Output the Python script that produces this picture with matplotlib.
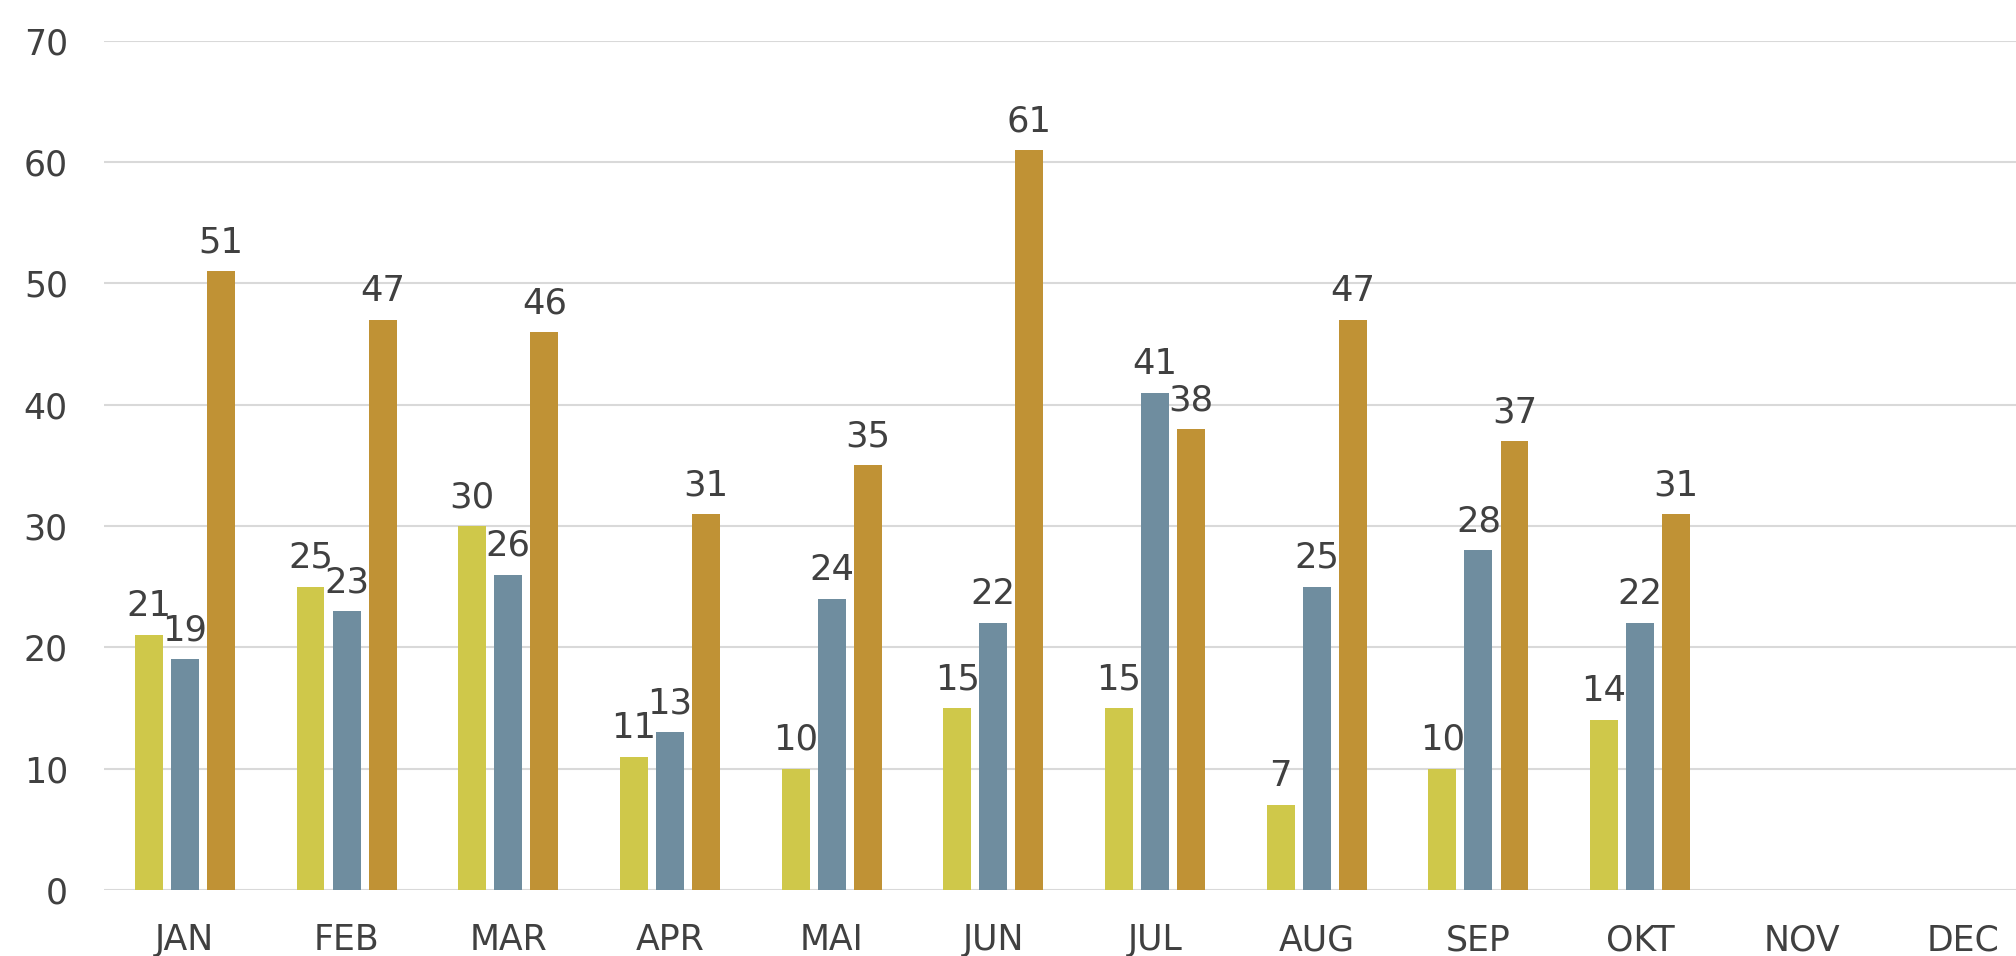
import matplotlib
matplotlib.use("Agg")
import matplotlib.pyplot as plt
import numpy as np

months = ["JAN", "FEB", "MAR", "APR", "MAI", "JUN", "JUL", "AUG", "SEP", "OKT", "NOV", "DEC"]
series_a = [21, 25, 30, 11, 10, 15, 15, 7, 10, 14]
series_b = [19, 23, 26, 13, 24, 22, 41, 25, 28, 22]
series_c = [51, 47, 46, 31, 35, 61, 38, 47, 37, 31]
y_ticks = [0, 10, 20, 30, 40, 50, 60, 70]

colors = ["#CFC84A", "#6F8D9F", "#C09235"]
text_color = "#404040"
grid_color = "#D9D9D9"

plt.rcParams['font.family'] = ['DejaVu Sans']

fig = plt.figure(figsize=(20.16, 9.56), dpi=100)
ax = fig.add_axes([104/2016, 66/956, 1 - 104/2016, (890 - 40.7)/956])

x = np.arange(len(months))
width = 0.173
offset = 0.223
for i, (vals, c) in enumerate(zip([series_a, series_b, series_c], colors)):
    xs = x[:len(vals)] + (i - 1) * offset
    ax.bar(xs, vals, width=width, color=c, zorder=3)
    for xi, v in zip(xs, vals):
        ax.annotate(str(v), (xi, v), xytext=(0, 13.5), textcoords="offset points",
                    ha="center", va="baseline", fontsize=25.5, color=text_color)

ax.set_xlim(-0.5, (2016 - 104) / 161.7 - 0.5)
ax.set_ylim(0, 70)
ax.set_yticks(y_ticks)
ax.set_xticks(x)
ax.set_xticklabels(months)
ax.tick_params(axis='both', length=0, labelsize=25, labelcolor=text_color)
ax.tick_params(axis='y', pad=26)
ax.tick_params(axis='x', pad=24)
ax.grid(axis='y', color=grid_color, linewidth=1.5, zorder=0)
ax.set_axisbelow(True)
for s in ax.spines.values():
    s.set_visible(False)

fig.savefig("out.png", dpi=100)
